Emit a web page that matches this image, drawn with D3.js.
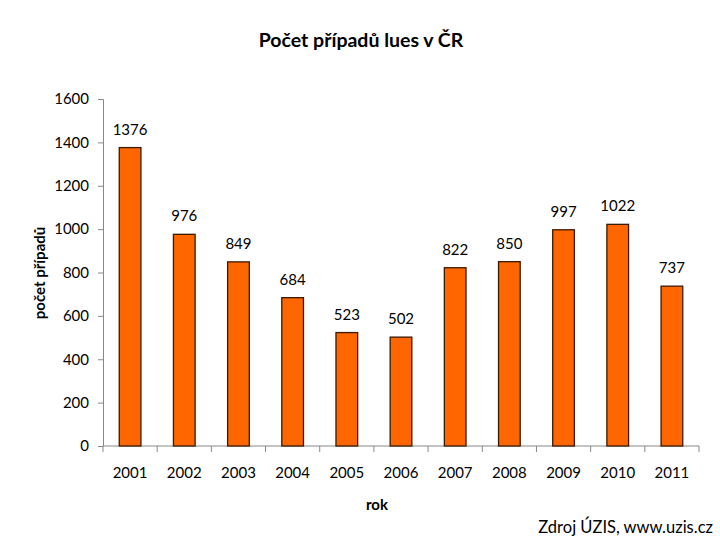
<!DOCTYPE html>
<html><head><meta charset="utf-8">
<script src="https://cdn.jsdelivr.net/npm/d3@7"></script>
<style>body{margin:0;background:#fff}svg{display:block}text{font-family:Lato,"Open Sans",sans-serif}</style>
</head><body>
<svg id="c" width="720" height="540"></svg>
<script>
const years = ["2001","2002","2003","2004","2005","2006","2007","2008","2009","2010","2011"];
const cases = [1376,976,849,684,523,502,822,850,997,1022,737];
const yTicks = [0,200,400,600,800,1000,1200,1400,1600];

const svg = d3.select("#c");
const m = {l:103, r:21, t:99, b:94};
const W = 720, H = 540;
const x = d3.scaleBand().domain(years).range([m.l, W - m.r]).paddingInner(0.6).paddingOuter(0.3);
const y = d3.scaleLinear().domain([0,1600]).range([H - m.b, m.t]);
const xb = d3.scaleBand().domain(years).range([m.l, W - m.r]);

// y axis
const ya = svg.append("g").attr("transform",`translate(${m.l},0)`)
  .call(d3.axisLeft(y).tickValues(yTicks).tickFormat(d3.format("d")).tickSize(5).tickPadding(9));
ya.select(".domain").attr("stroke","#888");
ya.selectAll(".tick line").attr("stroke","#888");
ya.selectAll("text").attr("font-size",15).attr("fill","#000");

// x axis
const xa = svg.append("g").attr("transform",`translate(0,${H - m.b})`);
xa.append("line").attr("x1",m.l).attr("x2",W-m.r).attr("stroke","#888");
xa.selectAll(".tk").data(years.concat(["end"])).enter().append("line")
  .attr("x1",(d,i)=> i<years.length ? xb(d) : W-m.r).attr("x2",(d,i)=> i<years.length ? xb(d) : W-m.r)
  .attr("y1",0).attr("y2",6).attr("stroke","#888");
xa.selectAll(".lb").data(years).enter().append("text")
  .attr("x",d=>xb(d)+xb.bandwidth()/2).attr("y",32)
  .attr("text-anchor","middle").attr("font-size",15).text(d=>d);

// bars
svg.selectAll(".bar").data(years).enter().append("rect")
  .attr("x",d=>x(d)).attr("width",x.bandwidth())
  .attr("y",(d,i)=>y(cases[i])).attr("height",(d,i)=>y(0)-y(cases[i]))
  .attr("fill","#ff6600").attr("stroke","#3a1a00").attr("stroke-width",1.3);

// value labels
svg.selectAll(".val").data(years).enter().append("text")
  .attr("x",d=>x(d)+x.bandwidth()/2).attr("y",(d,i)=>y(cases[i])-13)
  .attr("text-anchor","middle").attr("font-size",15).text((d,i)=>cases[i]);

// title & labels
svg.append("text").attr("x",361).attr("y",47).attr("text-anchor","middle")
  .attr("font-size",19.5).attr("font-weight","bold").text("Počet případů lues v ČR");
svg.append("text").attr("transform","translate(45,273) rotate(-90)").attr("text-anchor","middle")
  .attr("font-size",15).attr("font-weight","bold").text("počet případů");
svg.append("text").attr("x",377).attr("y",510).attr("text-anchor","middle")
  .attr("font-size",15).attr("font-weight","bold").text("rok");
svg.append("text").attr("x",713).attr("y",533).attr("text-anchor","end")
  .attr("font-size",16.5).text("Zdroj ÚZIS, www.uzis.cz");
</script>
</body></html>
